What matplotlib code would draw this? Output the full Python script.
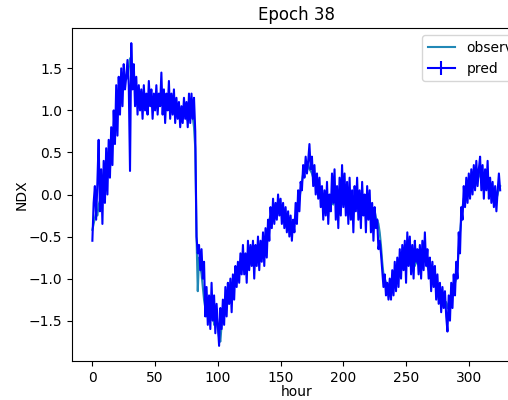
import matplotlib
matplotlib.use('Agg')
import matplotlib.pyplot as plt
import numpy as np

observado = [
    -0.42, -0.35, -0.28, -0.22, -0.25, -0.12, -0.08, -0.15, 0.02, -0.02,
    0.10, 0.05, 0.25, 0.35, 0.30, 0.50, 0.62, 0.75, 0.90, 1.02,
    1.15, 1.22, 1.28, 1.20, 1.32, 1.25, 1.35, 1.42, 1.38, 1.50,
    1.62, 1.55, 1.45, 1.35, 1.28, 1.22, 1.18, 1.12, 1.15, 1.08,
    1.10, 1.05, 1.12, 1.08, 1.02, 1.10, 1.15, 1.05, 1.12, 1.08,
    1.05, 1.10, 1.02, 1.12, 1.08, 1.15, 1.05, 1.10, 1.00, 1.05,
    1.08, 1.02, 1.05, 0.98, 1.05, 1.10, 1.00, 0.95, 1.02, 0.98,
    0.92, 0.98, 0.90, 0.95, 1.00, 0.92, 0.88, 0.95, 0.90, 0.98,
    0.92, 0.80, 0.55, -0.50, -1.15, -0.75, -0.85, -0.95, -1.10, -1.25,
    -1.35, -1.45, -1.40, -1.30, -1.50, -1.45, -1.35, -1.55, -1.40, -1.50,
    -1.60, -1.70, -1.75, -1.55, -1.45, -1.40, -1.35, -1.30, -1.25, -1.30,
    -1.20, -1.15, -1.10, -1.05, -1.00, -0.95, -1.00, -0.92, -0.88, -0.90,
    -0.85, -0.80, -0.85, -0.75, -0.78, -0.72, -0.70, -0.75, -0.68, -0.72,
    -0.70, -0.65, -0.72, -0.78, -0.75, -0.70, -0.68, -0.72, -0.65, -0.60,
    -0.45, -0.30, -0.25, -0.28, -0.20, -0.22, -0.18, -0.15, -0.20, -0.12,
    -0.15, -0.20, -0.25, -0.30, -0.35, -0.40, -0.38, -0.42, -0.40, -0.35,
    -0.38, -0.30, -0.28, -0.20, -0.15, -0.05, 0.05, 0.15, 0.25, 0.30,
    0.28, 0.32, 0.35, 0.30, 0.28, 0.25, 0.20, 0.15, 0.12, 0.10,
    0.08, 0.05, 0.02, 0.00, -0.02, -0.05, -0.08, -0.10, -0.12, -0.15,
    -0.10, -0.08, -0.12, -0.05, -0.02, 0.00, -0.05, -0.10, -0.08, -0.12,
    -0.10, -0.05, 0.00, -0.05, -0.10, -0.08, -0.15, -0.12, -0.10, -0.05,
    -0.08, -0.12, -0.15, -0.10, -0.05, -0.08, -0.12, -0.15, -0.10, -0.18,
    -0.15, -0.20, -0.18, -0.22, -0.25, -0.20, -0.28, -0.30, -0.35, -0.45,
    -0.60, -0.80, -0.95, -1.00, -1.05, -1.10, -1.15, -1.08, -1.12, -1.15,
    -1.10, -1.05, -1.00, -0.95, -0.98, -0.92, -0.88, -0.85, -0.82, -0.80,
    -0.78, -0.80, -0.75, -0.78, -0.82, -0.80, -0.78, -0.85, -0.80, -0.82,
    -0.78, -0.80, -0.85, -0.82, -0.78, -0.75, -0.80, -0.85, -0.90, -0.95,
    -1.00, -1.05, -1.02, -0.98, -1.05, -1.10, -1.15, -1.20, -1.25, -1.20,
    -1.25, -1.30, -1.28, -1.35, -1.30, -1.25, -1.20, -1.15, -1.10, -1.05,
    -1.00, -0.85, -0.65, -0.45, -0.30, -0.15, -0.05, 0.00, 0.05, 0.02,
    0.08, 0.05, 0.10, 0.12, 0.15, 0.10, 0.18, 0.20, 0.25, 0.22,
    0.18, 0.20, 0.15, 0.12, 0.18, 0.15, 0.10, 0.08, 0.12, 0.05,
    0.00, 0.05, -0.05, 0.00, 0.08, 0.10,
]

# valores previstos
previsto = [
    -0.55, -0.10, 0.10, -0.30, 0.15, 0.65, -0.20, 0.30, -0.35, 0.40,
    -0.10, 0.55, 0.00, 0.65, 0.20, 0.80, 0.35, 1.00, 0.60, 1.30,
    0.70, 1.40, 0.95, 1.50, 1.05, 1.55, 1.25, 1.40, 1.60, 1.30,
    0.28, 1.80, 1.25, 1.55, 1.05, 1.40, 0.95, 1.30, 1.00, 1.25,
    0.90, 1.30, 1.00, 1.20, 0.95, 1.35, 1.05, 1.25, 0.90, 1.20,
    1.00, 1.30, 0.95, 1.20, 1.05, 1.45, 0.95, 1.25, 0.85, 1.20,
    1.00, 1.35, 0.90, 1.20, 0.95, 1.25, 0.85, 1.15, 0.90, 1.10,
    0.80, 1.05, 0.85, 1.15, 0.90, 1.10, 0.80, 1.20, 0.85, 1.20,
    0.90, 1.15, 0.75, -0.50, -0.70, -0.60, -0.90, -0.65, -1.00, -0.80,
    -1.45, -1.10, -1.55, -1.20, -1.60, -1.05, -1.50, -1.20, -1.65, -1.30,
    -1.55, -1.80, -1.35, -1.60, -1.25, -1.55, -1.10, -1.45, -1.05, -1.30,
    -1.00, -1.40, -0.95, -1.25, -0.85, -1.10, -0.80, -1.05, -0.70, -0.95,
    -0.60, -0.95, -0.70, -1.05, -0.55, -0.90, -0.60, -0.85, -0.55, -1.00,
    -0.60, -0.85, -0.50, -0.90, -0.55, -0.80, -0.45, -0.85, -0.40, -0.75,
    -0.30, -0.55, -0.15, -0.40, -0.05, -0.35, -0.10, -0.30, 0.00, -0.25,
    -0.05, -0.35, -0.10, -0.40, -0.15, -0.45, -0.20, -0.50, -0.25, -0.55,
    -0.30, -0.45, -0.10, -0.35, 0.05, -0.20, 0.15, 0.05, 0.35, 0.20,
    0.45, 0.25, 0.40, 0.60, 0.30, 0.45, 0.10, 0.35, 0.00, 0.25,
    -0.05, 0.20, -0.15, 0.10, -0.30, 0.05, -0.25, 0.15, -0.35, 0.00,
    -0.20, 0.25, -0.10, 0.30, -0.30, 0.10, -0.40, 0.20, -0.25, 0.35,
    -0.15, 0.25, -0.25, 0.15, -0.35, 0.20, -0.30, 0.05, -0.45, 0.10,
    -0.20, 0.20, -0.30, 0.05, -0.40, 0.15, -0.25, 0.00, -0.45, 0.10,
    -0.30, 0.05, -0.45, -0.10, -0.55, -0.15, -0.40, -0.30, -0.65, -0.55,
    -0.70, -0.90, -1.10, -0.95, -1.20, -1.05, -1.25, -1.00, -1.25, -0.90,
    -1.20, -0.80, -1.15, -0.75, -1.10, -0.65, -1.00, -0.60, -0.90, -0.55,
    -1.05, -0.45, -0.85, -0.50, -0.95, -0.60, -1.00, -0.55, -0.80, -0.65,
    -0.95, -0.60, -1.00, -0.55, -0.90, -0.45, -0.85, -0.65, -1.00, -0.75,
    -1.15, -0.80, -1.10, -0.85, -1.25, -0.95, -1.30, -1.05, -1.40, -1.10,
    -1.35, -1.15, -1.45, -1.63, -1.20, -1.50, -1.05, -1.35, -0.95, -1.20,
    -0.80, -1.00, -0.45, -0.70, -0.15, -0.30, 0.10, -0.15, 0.20, -0.10,
    0.25, -0.05, 0.30, 0.00, 0.35, 0.05, 0.40, 0.10, 0.30, 0.45,
    0.05, 0.35, -0.05, 0.30, 0.05, 0.40, -0.05, 0.20, -0.10, 0.15,
    -0.15, 0.10, -0.20, 0.05, 0.25, 0.05,
]

# erro da previsao (nao visivel no grafico)
erro_previsto = [0.0] * len(previsto)

horas = np.arange(len(observado))

fig = plt.figure(figsize=(5.08, 4.0), dpi=100)
ax = fig.add_axes([0.1417, 0.0975, 0.883, 0.8325])

ax.plot(horas, observado, color='#2188b6', label='observed')
ax.errorbar(horas, previsto, yerr=erro_previsto, color='b', label='pred')

ax.set_xticks([0, 50, 100, 150, 200, 250, 300])
ax.set_yticks([-1.5, -1.0, -0.5, 0.0, 0.5, 1.0, 1.5])
ax.set_xlabel('hour', labelpad=0)
ax.set_ylabel('NDX', labelpad=0)
ax.set_title('Epoch 38')

# legenda cortada na borda direita, como no original
ax.legend(loc='upper left', bbox_to_anchor=(422 / 508, 1 - 35 / 400),
          bbox_transform=fig.transFigure, borderaxespad=0)

fig.savefig('out.png', dpi=100)
